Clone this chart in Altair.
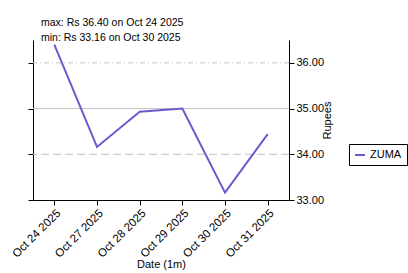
import altair as alt
import pandas as pd

dates = ["Oct 24 2025", "Oct 27 2025", "Oct 28 2025", "Oct 29 2025", "Oct 30 2025", "Oct 31 2025"]
prices = [36.40, 34.16, 34.93, 35.00, 33.16, 34.44]
ticker = "ZUMA"
y_ticks = [33, 34, 35, 36]
grid_levels = [36, 35, 34]
grid_styles = ["dashdot", "solid", "dashed"]

df = pd.DataFrame({"date": dates, "price": prices, "symbol": [ticker] * len(dates)})
grid_df = pd.DataFrame({"level": grid_levels, "style": grid_styles})

imax = prices.index(max(prices))
imin = prices.index(min(prices))
title_lines = [
    f"max: Rs {prices[imax]:.2f} on {dates[imax]}",
    f"min: Rs {prices[imin]:.2f} on {dates[imin]}",
]

FONT = "Liberation Sans"
yscale = alt.Scale(domain=[33, 36.5], nice=False, zero=False)

grid = alt.Chart(grid_df).mark_rule(color="#c4c4c4", strokeWidth=1).encode(
    y=alt.Y("level:Q", scale=yscale,
            axis=alt.Axis(orient="left", labels=False, title=None, values=y_ticks,
                          grid=False, ticks=True, domain=True, tickSize=5)),
    strokeDash=alt.StrokeDash("style:N",
                              scale=alt.Scale(domain=grid_styles,
                                              range=[[5, 3, 1, 3], [1, 0], [8, 4]]),
                              legend=None),
)

line = alt.Chart(df).mark_line(strokeWidth=2).encode(
    x=alt.X("date:O", sort=dates,
            axis=alt.Axis(title="Date (1m)", labelAngle=-45, labelAlign="right",
                          labelBaseline="top", tickSize=5, grid=False, labelFontSize=11.5,
                          titleX=128, titleY=67, titleAlign="center",
                          titleBaseline="alphabetic")),
    y=alt.Y("price:Q", scale=yscale,
            axis=alt.Axis(orient="right", values=y_ticks, format=".2f", title="Rupees",
                          titleAngle=270, titleX=38, titleY=80, titleAlign="center",
                          titleBaseline="middle", grid=False, tickSize=5)),
    color=alt.Color("symbol:N", scale=alt.Scale(range=["#6a5acd"]),
                    legend=alt.Legend(title=None, orient="none", legendX=316, legendY=104,
                                      strokeColor="black", padding=5, symbolType="stroke",
                                      symbolSize=100, symbolStrokeWidth=2, labelOffset=4)),
)

chart = alt.layer(grid, line).resolve_axis(y="independent").properties(
    width=256,
    height=160,
    padding={"left": 33, "top": 40, "right": 119, "bottom": 73},
    autosize=alt.AutoSizeParams(type="none"),
    background="white",
    title=alt.Title(title_lines, anchor="start", frame="group", dx=8, fontSize=10.5,
                    fontWeight="normal", lineHeight=14.5, offset=-3, font=FONT,
                    color="black"),
).configure_view(stroke=None).configure_axis(
    labelFont=FONT, titleFont=FONT, labelFontSize=11, titleFontSize=11,
    titleFontWeight="normal", labelColor="black", titleColor="black",
    domainColor="black", tickColor="black",
).configure_legend(labelFont=FONT, labelFontSize=11, labelColor="black")

chart.save("out.html", embed_options={"renderer": "svg", "actions": False})
